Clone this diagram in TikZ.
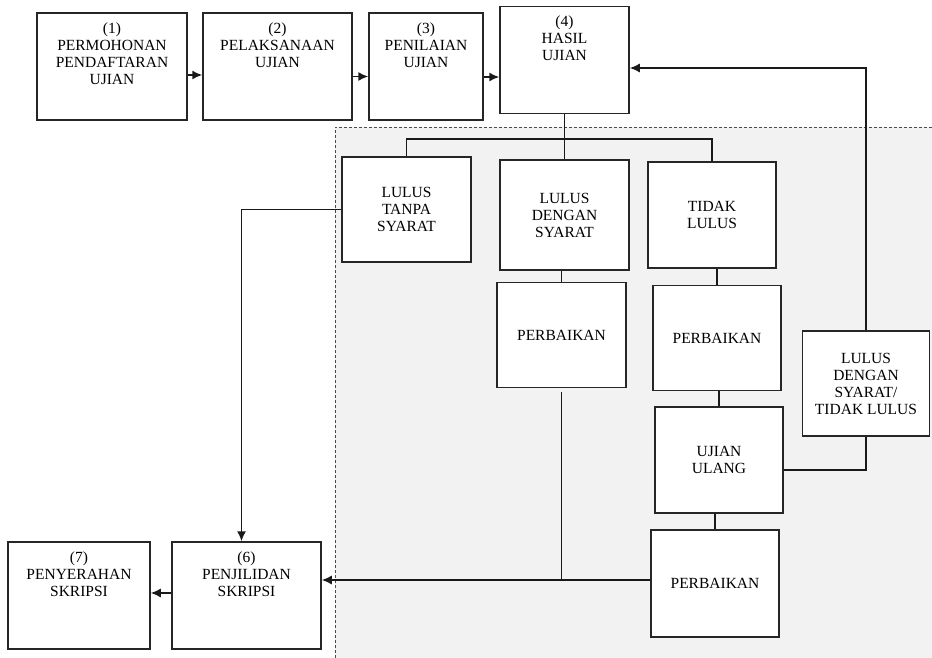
\documentclass[tikz,border=0pt]{standalone}
\usepackage{fontspec}
\setmainfont{Liberation Serif}
\usetikzlibrary{arrows.meta}
\definecolor{zonegray}{HTML}{F2F2F2}

\begin{document}
\begin{tikzpicture}[x=1pt, y=-1pt,
  flowbox/.style={draw=black!85, line width=1.5pt, fill=white, minimum height=107pt,
    inner sep=0pt, align=center, font=\fontsize{15.5}{17}\selectfont},
  numbered/.style={label={[anchor=north, align=center, inner sep=0pt, yshift=-10pt,
    font=\fontsize{15.5}{17}\selectfont]north:#1}},
  line/.style={draw=black!90, line width=1.5pt},
  arr/.style={line, -{Latex[length=10pt,width=9pt]}}]
  \useasboundingbox (0,0) rectangle (932,658);

  % Revision zone
  \fill[zonegray] (335,127) rectangle (932,658);
  \draw[black!70, line width=0.9pt, densely dashed] (335,658) |- (932,127);

  % Main flow
  \node[flowbox, minimum width=150pt, numbered={(1)\\PERMOHONAN\\PENDAFTARAN\\UJIAN}] (daftar) at (112,66.5) {};
  \node[flowbox, minimum width=149pt, numbered={(2)\\PELAKSANAAN\\UJIAN}] (laksana) at (277.5,66.5) {};
  \node[flowbox, minimum width=114pt, numbered={(3)\\PENILAIAN\\UJIAN}] (nilai) at (426,66.5) {};
  \node[flowbox, minimum width=129pt, numbered={(4)\\HASIL\\UJIAN}] (hasil) at (564.5,60) {};

  % Results
  \node[flowbox, minimum width=129pt, minimum height=105pt] (tanpa) at (406.5,209.5) {LULUS\\TANPA\\SYARAT};
  \node[flowbox, minimum width=129pt, minimum height=110pt] (dengan) at (564.5,215) {LULUS\\DENGAN\\SYARAT};
  \node[flowbox, minimum width=128pt, minimum height=106pt] (tidak) at (712,215) {TIDAK\\LULUS};

  % Revisions and re-exam
  \node[flowbox, minimum width=129pt, minimum height=105pt] (perbaikanA) at (561.5,335) {PERBAIKAN};
  \node[flowbox, minimum width=128pt, minimum height=105pt] (perbaikanB) at (717,338) {PERBAIKAN};
  \node[flowbox, minimum width=128pt, minimum height=106pt] (ulang) at (719,460) {UJIAN\\ULANG};
  \node[flowbox, minimum width=127pt, minimum height=105pt] (ulanghasil) at (866,383.5) {LULUS\\DENGAN\\SYARAT/\\TIDAK LULUS};
  \node[flowbox, minimum width=128pt] (perbaikanC) at (715,583.5) {PERBAIKAN};

  % Final steps
  \node[flowbox, minimum width=149pt, numbered={(6)\\PENJILIDAN\\SKRIPSI}] (jilid) at (246.5,595.5) {};
  \node[flowbox, minimum width=142pt, numbered={(7)\\PENYERAHAN\\SKRIPSI}] (serah) at (79,595.5) {};

  % Connectors
  \draw[arr] ([yshift=-8.5pt]daftar.east) -- ([yshift=-8.5pt]daftar.east -| laksana.west);
  \draw[arr] ([yshift=-10pt]laksana.east) -- ([yshift=-10pt]laksana.east -| nilai.west);
  \draw[arr] ([yshift=-10.5pt]nilai.east) -- ([yshift=-10.5pt]nilai.east -| hasil.west);
  \draw[line] (hasil.south) -- (dengan.north);
  \draw[line] (tanpa.north) -- ++(0,-17) -| (tidak.north);
  \draw[line] (perbaikanA.north) -- (perbaikanA.north |- dengan.south);
  \draw[line] (perbaikanB.north) -- (perbaikanB.north |- tidak.south);
  \draw[line] (ulang.north) -- (ulang.north |- perbaikanB.south);
  \draw[line] (perbaikanC.north) -- (perbaikanC.north |- ulang.south);
  \draw[line] ([yshift=-10pt]ulang.east) -| (ulanghasil.south);
  \draw[arr] (ulanghasil.north) |- ([yshift=-8pt]hasil.east);
  \draw[arr] (tanpa.west) -| ([xshift=-5pt]jilid.north);
  \coordinate (gabung) at ([yshift=3.5pt]perbaikanC.west -| perbaikanA.south);
  \draw[line] ([yshift=-4pt]perbaikanA.south) -- (gabung);
  \draw[arr] ([yshift=3.5pt]perbaikanC.west) -- ([yshift=3.5pt]perbaikanC.west -| jilid.east);
  \draw[arr] ([yshift=2.5pt]jilid.west) -- ([yshift=2.5pt]jilid.west -| serah.east);
\end{tikzpicture}
\end{document}
